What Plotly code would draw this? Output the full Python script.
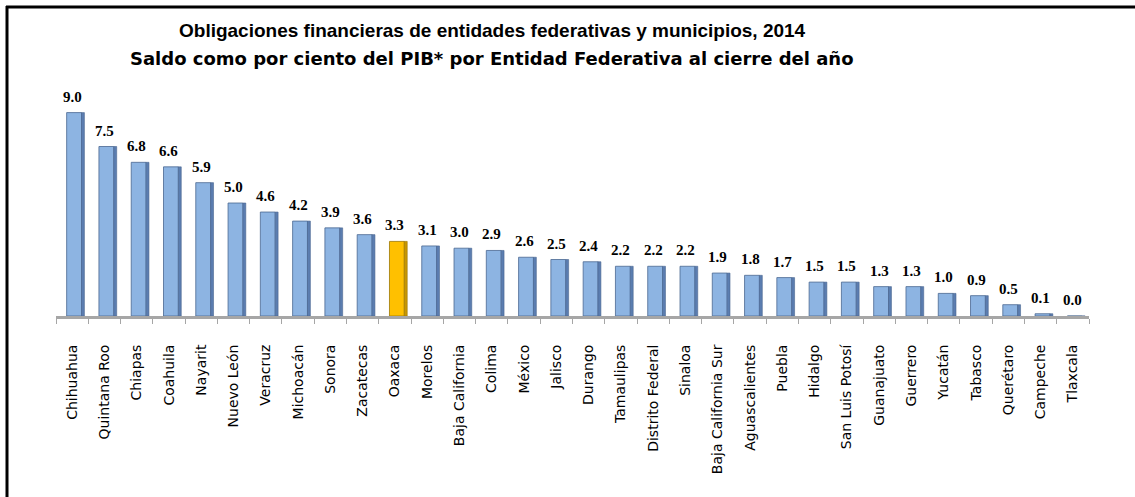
import plotly.graph_objects as go

categories = ["Chihuahua", "Quintana Roo", "Chiapas", "Coahuila", "Nayarit",
              "Nuevo León", "Veracruz", "Michoacán", "Sonora", "Zacatecas",
              "Oaxaca", "Morelos", "Baja California", "Colima", "México",
              "Jalisco", "Durango", "Tamaulipas", "Distrito Federal", "Sinaloa",
              "Baja California Sur", "Aguascalientes", "Puebla", "Hidalgo",
              "San Luis Potosí", "Guanajuato", "Guerrero", "Yucatán", "Tabasco",
              "Querétaro", "Campeche", "Tlaxcala"]
values = [9.0, 7.5, 6.8, 6.6, 5.9, 5.0, 4.6, 4.2, 3.9, 3.6, 3.3, 3.1, 3.0, 2.9,
          2.6, 2.5, 2.4, 2.2, 2.2, 2.2, 1.9, 1.8, 1.7, 1.5, 1.5, 1.3, 1.3, 1.0,
          0.9, 0.5, 0.1, 0.0]
highlight = "Oaxaca"

title1 = "Obligaciones financieras de entidades federativas y municipios, 2014"
title2 = "Saldo como por ciento del PIB* por Entidad Federativa al cierre del año"

W, H = 1135, 497
ML, MR, MT, MB = 56, 46, 90, 181
YMAX = 10

front_colors = ["#FFC000" if c == highlight else "#8DB4E2" for c in categories]
side_colors = ["#C79600" if c == highlight else "#5B7DB0" for c in categories]
edge_colors = ["#9C7600" if c == highlight else "#4A6790" for c in categories]

fig = go.Figure()
fig.add_trace(go.Bar(
    x=categories, y=values, width=0.46, offset=-0.17,
    marker=dict(color=front_colors, line=dict(color=edge_colors, width=0.8)),
    hoverinfo="x+y", showlegend=False,
))
fig.add_trace(go.Bar(
    x=categories, y=values, width=0.09, offset=0.29,
    marker=dict(color=side_colors, line=dict(color=edge_colors, width=0.6)),
    hoverinfo="skip", showlegend=False,
))

for c, v in zip(categories, values):
    fig.add_annotation(
        x=c, y=v, text=f"<b>{v:.1f}</b>", showarrow=False, yanchor="middle",
        yshift=16, xshift=0,
        font=dict(family="Liberation Serif", size=15, color="#000000"),
    )

pw, ph = W - ML - MR, H - MT - MB
def px(x):
    return (x - ML) / pw
def py(y):
    return (H - MB - y) / ph

# titles
fig.add_annotation(
    xref="paper", yref="paper", x=px(492), y=py(30),
    text=f"<b>{title1}</b>", showarrow=False, xanchor="center", yanchor="middle",
    font=dict(family="Liberation Sans", size=19, color="#000000"),
)
fig.add_annotation(
    xref="paper", yref="paper", x=px(492), y=py(58),
    text=f"<b>{title2}</b>", showarrow=False, xanchor="center", yanchor="middle",
    font=dict(family="DejaVu Sans", size=18, color="#000000"),
)

# frame (top and left border lines)
fig.add_shape(type="line", xref="paper", yref="paper",
              x0=px(6), x1=px(W + 5), y0=py(7), y1=py(7),
              line=dict(color="#000000", width=3))
fig.add_shape(type="line", xref="paper", yref="paper",
              x0=px(7), x1=px(7), y0=py(6), y1=py(H + 5),
              line=dict(color="#000000", width=3))

fig.update_layout(
    width=W, height=H,
    margin=dict(l=ML, r=MR, t=MT, b=MB, pad=0),
    paper_bgcolor="#FFFFFF", plot_bgcolor="#FFFFFF",
    barmode="overlay", bargap=0.5,
    showlegend=False,
    xaxis=dict(
        type="category", tickangle=-90, showline=True, linecolor="#A6A6A6",
        linewidth=3, ticks="outside", tickson="boundaries", ticklen=5,
        tickcolor="#A6A6A6", showgrid=False, ticklabelstandoff=20,
        tickfont=dict(family="DejaVu Sans", size=14, color="#000000"),
        range=[-0.5, len(categories) - 0.5],
    ),
    yaxis=dict(visible=False, range=[0, YMAX], showgrid=False, zeroline=False),
)

fig.write_html(
    "out.html",
    config={"displayModeBar": False},
    post_script="document.body.style.margin='0';document.body.style.overflow='hidden';",
)
